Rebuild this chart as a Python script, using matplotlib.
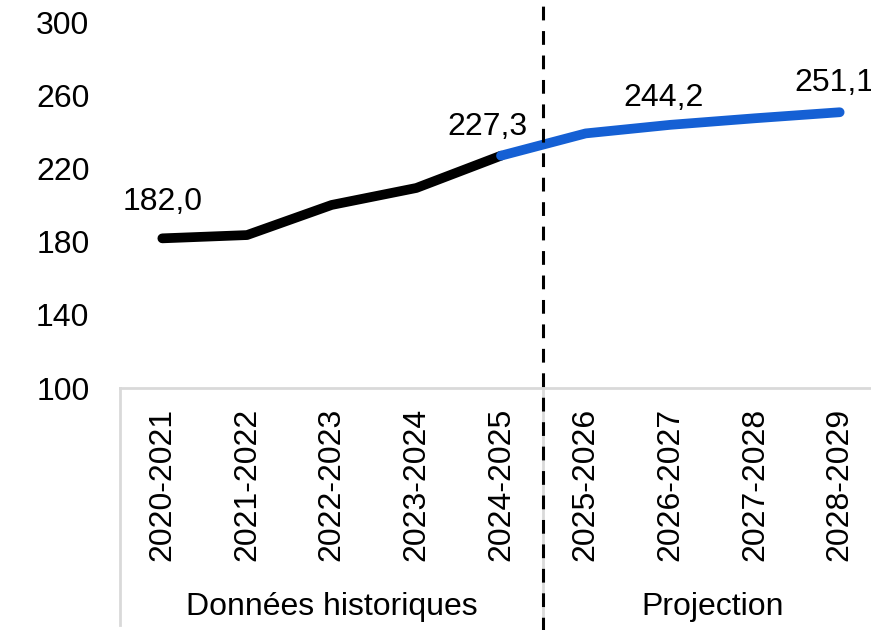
import numpy as np
import matplotlib.pyplot as plt

plt.rcParams['font.family'] = ['Liberation Sans', 'DejaVu Sans']

# categories and values
years = ['2020-2021', '2021-2022', '2022-2023', '2023-2024', '2024-2025',
         '2025-2026', '2026-2027', '2027-2028', '2028-2029']
hist = [182.0, 183.8, 200.3, 209.6, 227.3]
proj = [227.3, 239.5, 244.2, 247.8, 251.1]
labels = {0: '182,0', 4: '227,3', 6: '244,2', 8: '251,1'}
groups = ['Données historiques', 'Projection']

fs = 23
fig = plt.figure(figsize=(8.71, 6.30), dpi=100)
W, H = 871, 630
# axes extends past the right edge like the original crop
ax = fig.add_axes([120 / W, (H - 388) / H, 762 / W, 365 / H])

x = np.arange(len(years))
ax.plot(x[:5], hist, color='black', lw=7, solid_capstyle='round', zorder=3)
ax.plot(x[4:], proj, color='#1560d4', lw=7, solid_capstyle='round', zorder=3)

# data labels (offsets in points)
all_vals = hist + proj[1:]
offs = {0: (0, 26.5), 4: (-10, 21), 6: (-5, 19.5), 8: (-3.6, 21)}
for i, txt in labels.items():
    ax.annotate(txt, (i, all_vals[i]), xytext=offs[i], textcoords='offset points',
                ha='center', va='center', fontsize=fs)

ax.set_xlim(-0.5, 8.5)
ax.set_ylim(100, 300)
ax.set_yticks([100, 140, 180, 220, 260, 300])
ax.set_xticks(x)
ax.set_xticklabels(years, rotation=90, va='top')
ax.tick_params(axis='y', length=0, pad=22, labelsize=fs)
ax.tick_params(axis='x', length=0, pad=14, labelsize=fs)

for s in ['top', 'right', 'left']:
    ax.spines[s].set_visible(False)
ax.spines['bottom'].set_color('#d9d9d9')
ax.spines['bottom'].set_linewidth(2)

# category group separators and labels
ybot = (388 - 625) / 365
for xs in [-0.5, 4.5]:
    ax.plot([xs, xs], [0, ybot], color='#d9d9d9', lw=2,
            transform=ax.get_xaxis_transform(), clip_on=False)
ax.text(2, (388 - 607) / 365, groups[0], transform=ax.get_xaxis_transform(),
        ha='center', va='center', fontsize=fs)
ax.text(6.5, (388 - 607) / 365, groups[1], transform=ax.get_xaxis_transform(),
        ha='center', va='center', fontsize=fs)

# dashed divider between history and projection
ax.axvline(4.5, ymin=-0.7, ymax=1.07, color='black', lw=2.2, ls=(0, (4.5, 3.5)),
           clip_on=False, zorder=4)

fig.savefig('out.png', dpi=100)
